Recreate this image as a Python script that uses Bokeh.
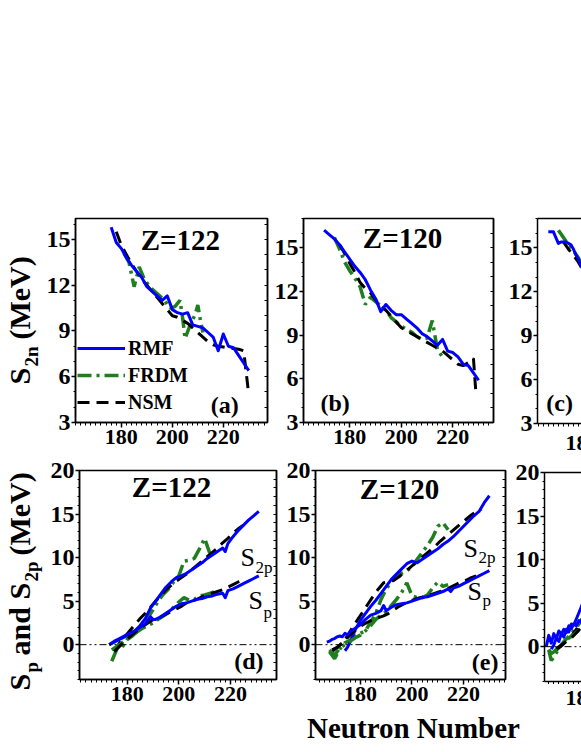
import numpy as np
from bokeh.plotting import figure
from bokeh.models import Range1d, FixedTicker, Label, Legend, LegendItem, Span, LinearAxis
from bokeh.layouts import row, column
from bokeh.embed import file_html
from bokeh.resources import INLINE

# ---------------- data ----------------
# (a) Z=122, S2n
a_rmf_n = [176,178,180,182,184,186,188,190,192,194,196,198,200,202,204,206,208,210,212,214,216,218,220,222,224,226,228,230]
a_rmf_s = [15.8,14.8,14.4,13.8,13.3,12.9,12.5,11.9,11.6,11.3,11.0,11.3,10.4,10.2,10.1,10.2,9.4,9.3,9.2,8.9,8.6,7.7,8.8,8.0,7.9,7.4,6.9,6.4]
a_nsm_n = [178,180,182,184,186,188,190,192,194,196,198,200,202,204,206,208,210,212,214,216,218,220,222,224,226,228,230]
a_nsm_s = [15.5,14.6,14.0,13.4,12.9,12.4,12.0,11.6,11.2,10.8,10.4,10.0,9.9,9.7,9.5,9.2,8.9,8.6,8.3,8.1,8.0,7.95,7.9,7.85,7.8,7.7,4.8]
a_frdm_n = [181,183,185,187,189,191,193,195,197,199,201,203,204,205,207,209,210,211,212]
a_frdm_s = [14.1,13.5,11.9,13.2,12.4,11.9,11.6,11.3,11.0,10.5,10.6,11.0,9.9,8.5,9.4,10.1,10.7,9.7,8.9]

# (b) Z=120, S2n
b_rmf_n = [170,172,174,176,178,180,182,184,186,188,190,192,194,196,198,200,202,204,206,208,210,212,214,216,218,220,222,224,226,228,230]
b_rmf_s = [16.2,15.9,15.6,15.2,14.7,14.2,13.7,13.3,12.8,12.1,11.5,10.6,11.1,10.7,10.4,10.4,10.1,9.8,9.5,9.1,8.9,8.6,8.3,8.7,7.9,7.8,7.5,7.0,6.9,6.4,5.9]
b_nsm_n = [176,178,180,182,184,186,188,190,192,194,196,198,200,202,204,206,208,210,212,214,216,218,220,222,224,226,228,229]
b_nsm_s = [15.2,14.6,13.9,13.3,12.6,12.2,11.9,11.4,11.0,10.7,10.3,9.9,9.5,9.3,9.1,8.9,8.7,8.5,8.3,8.1,7.9,7.6,7.3,7.0,6.9,7.1,7.4,4.9]
b_frdm_n = [174,176,178,180,182,184,186,188,190,192,194,196,198,200,202,204,206,208,210,212,214,216]
b_frdm_s = [15.7,14.9,14.0,13.4,12.9,12.3,11.1,11.6,11.3,11.0,10.7,10.2,9.9,9.6,9.4,9.2,8.9,8.7,8.8,10.0,8.0,7.5]

# (c) S2n (panel cut at the right edge)
c_rmf_n = [166,168,169,170,171,172,173,174,175,176,177,178,180,182]
c_rmf_s = [16.1,16.1,15.7,15.3,15.4,15.4,15.4,15.3,15.2,14.9,14.5,14.2,13.4,12.8]
c_nsm_n = [172,174,176,178,180,182]
c_nsm_s = [15.4,14.9,14.5,14.0,13.4,12.9]
c_frdm_n = [170,172,174,176,178,180,182]
c_frdm_s = [16.2,15.7,15.2,14.8,14.3,13.5,12.9]

# (d) Z=122, Sp and S2p
d_rmf_n2 = [173,175,177,179,181,183,185,187,189,191,193,195,197,199,201,203,205,207,209,211,213,215,217,218,219,221,223,225,227,229,231]
d_rmf_s2p = [0.0,0.3,0.6,0.9,1.2,1.6,2.2,3.0,4.2,5.0,5.8,6.6,7.2,7.7,7.9,8.2,8.6,9.0,9.4,9.9,10.3,10.7,11.1,10.7,11.6,12.4,13.1,13.7,14.3,14.8,15.3]
d_rmf_np = [173,175,177,179,181,183,185,187,189,190,191,193,195,197,199,201,203,205,207,209,211,213,215,217,218,219,221,223,225,227,229,231]
d_rmf_sp = [0.0,0.4,0.7,1.0,1.3,1.6,2.0,2.4,3.2,2.9,2.9,3.2,3.6,4.0,4.4,4.7,4.8,5.0,5.2,5.3,5.5,5.6,5.8,5.9,5.4,6.2,6.4,6.7,7.0,7.3,7.6,7.9]
d_nsm_n = [175,177,179,181,183,185,187,189,191,193,195,197,199,201,203,205,207,209,211,213,215,217,219,221,223,225]
d_nsm_s2p = [-0.8,0.2,0.9,1.6,2.3,3.0,3.6,4.3,5.0,5.6,6.3,6.8,7.3,7.7,8.1,8.6,9.1,9.6,10.1,10.6,11.1,11.7,12.2,12.8,13.3,13.7]
d_nsm_sp = [-0.8,-0.2,0.4,0.9,1.4,1.9,2.3,2.7,3.0,3.2,3.5,3.8,4.1,4.4,4.8,5.0,5.2,5.5,5.7,5.9,6.1,6.3,6.6,6.9,7.2,7.5]
d_frdm_n2 = [174,176,178,180,182,184,186,188,190,192,194,196,198,200,202,204,206,208,210,212]
d_frdm_s2p = [-1.9,-0.5,-0.3,0.6,1.0,1.6,2.3,3.1,4.0,5.0,5.8,6.4,7.2,7.9,9.6,9.7,9.9,11.0,12.2,10.5]
d_frdm_np = [174,176,178,180,182,184,186,188,190,192,194,196,198,200,202,204,206,208,210,212,214]
d_frdm_sp = [-0.6,-0.2,0.2,0.7,1.1,1.5,1.9,2.2,2.5,2.9,3.3,3.7,4.3,4.9,5.4,5.1,5.2,5.6,5.7,5.9,6.1]

# (e) Z=120, Sp and S2p
e_rmf_n2 = [174,175,176,177,178,180,182,184,186,188,190,192,194,196,198,200,202,204,206,208,210,212,214,216,218,220,222,224,226,228,230]
e_rmf_s2p = [-0.7,-0.3,0.3,1.0,1.7,2.8,3.6,4.4,5.1,5.9,6.7,7.5,8.1,8.7,9.3,9.6,9.4,9.8,10.2,10.6,11.0,11.5,11.9,12.4,13.0,13.6,14.2,14.8,15.3,16.3,17.1]
e_rmf_np = [167,168,169,170,171,172,173,174,175,176,178,180,182,184,186,188,189,190,192,194,196,198,200,202,204,206,208,210,212,214,215,216,218,220,222,224,226,228,230]
e_rmf_sp = [0.3,0.4,0.6,0.7,0.9,1.0,0.9,1.3,1.1,1.5,1.9,2.3,2.9,3.4,3.6,3.9,4.5,3.9,4.3,4.6,4.7,4.8,5.0,5.2,5.4,5.5,5.7,5.9,6.1,6.4,6.1,6.5,6.7,7.0,7.3,7.6,7.9,8.2,8.5]
e_nsm_n = [169,171,173,175,177,179,181,183,185,187,189,191,193,195,197,199,201,203,205,207,209,211,213,215,217,219,221,223,225,227]
e_nsm_s2p = [-0.8,-0.3,0.2,1.0,2.0,2.9,3.8,4.7,5.6,6.4,7.1,7.2,7.4,7.8,8.3,8.8,9.3,9.8,10.3,10.8,11.3,11.9,12.4,12.9,13.4,13.9,14.4,14.9,15.3,15.6]
e_nsm_sp = [-0.6,-0.3,0.2,0.8,1.4,1.9,2.3,2.6,2.9,3.1,3.3,3.6,4.0,4.4,4.7,5.0,5.2,5.4,5.5,5.7,5.9,6.1,6.3,6.6,6.9,7.2,7.4,7.7,7.9,8.1]
e_frdm_n = [168,170,172,174,176,178,180,182,184,186,188,190,192,194,196,198,200,202,204,206,208,210,212,214]
e_frdm_s2p = [-0.8,-1.6,-0.5,0.2,0.5,1.0,1.3,1.6,2.6,3.6,5.2,6.4,7.2,7.8,8.2,8.5,8.9,9.8,10.6,11.4,12.3,13.6,14.0,13.2]
e_frdm_sp = [-0.6,-1.2,-0.4,0.0,0.4,0.8,1.1,1.6,2.2,2.9,3.4,3.8,4.5,5.2,6.0,7.1,5.6,5.4,5.4,5.7,6.5,7.2,6.7,6.9]

# (f) Sp and S2p (panel cut at the right edge)
f_rmf_np = [165,166,167,168,169,170,171,172,173,174,175,176,177,178,179,180]
f_rmf_sp = [0.0,1.3,0.4,1.5,0.9,1.8,1.4,2.0,1.6,2.4,2.1,2.6,2.4,3.0,2.8,3.2]
f_rmf_n2 = [167,168,169,170,171,172,173,174,175,176,177,178,179,180]
f_rmf_s2p = [-0.3,0.2,1.0,0.6,1.5,1.1,2.0,1.7,2.6,2.5,3.2,3.9,4.6,5.4]
f_nsm_n = [169,171,173,175,177,179,181]
f_nsm_sp = [-0.2,0.2,0.6,1.0,1.6,2.2,2.7]
f_nsm_s2p = [-0.4,0.1,0.6,1.2,2.0,3.0,4.0]
f_frdm_n = [166,167,168,170,172,174,176,178,180]
f_frdm_s2p = [-0.4,-1.6,-1.2,-0.2,0.6,1.2,1.9,2.6,3.5]
f_frdm_sp = [-0.3,-0.8,-0.6,0.0,0.5,1.0,1.4,1.9,2.4]

x_major = [180, 200, 220]
x_minor = list(range(160, 240, 2))
s2n_major = [3, 6, 9, 12, 15]
s2n_minor = list(range(3, 18))
sp_major = [0, 5, 10, 15, 20]
sp_minor = list(range(-4, 21))

# ---------------- styling ----------------
FONT = "Liberation Serif"
BLUE = "#0000ff"
GREEN = "#1f7f1f"
BLACK = "#000000"
NSM_DASH = "12 7"
FRDM_DASH = "14 5 3 5"
MID = 0.34  # distance from baseline to text middle, in em

# page-pixel geometry of every frame: left, top, width, height, x range, y range
G = {
    "a": dict(fl=73, ft=217, fw=194, fh=205, xr=(162, 162 + 194 / 2.575), yr=(3, 3 + 205 / 15.33)),
    "b": dict(fl=303, ft=218, fw=190, fh=205, xr=(162, 162 + 190 / 2.575), yr=(3, 17)),
    "c": dict(fl=536, ft=218, fw=45, fh=205, xr=(161.7, 161.7 + 45 / 2.575), yr=(3, 17)),
    "d": dict(fl=79, ft=469, fw=197, fh=210, xr=(161.5, 161.5 + 197 / 2.58), yr=(-4, 20)),
    "e": dict(fl=315, ft=470, fw=190, fh=209, xr=(162.6, 162.6 + 190 / 2.58), yr=(-4, 20)),
    "f": dict(fl=543, ft=472, fw=38, fh=209, xr=(164.3, 164.3 + 38 / 2.58), yr=(-4, 20)),
}


def px(g, X, Y):
    x0, x1 = g["xr"]
    y0, y1 = g["yr"]
    return (x0 + (X - g["fl"]) * (x1 - x0) / g["fw"],
            y1 - (Y - g["ft"]) * (y1 - y0) / g["fh"])


def style_axis(ax, size):
    ax.major_label_text_font = FONT
    ax.major_label_text_font_style = "bold"
    ax.major_label_text_color = "black"
    ax.major_label_text_font_size = size
    ax.axis_line_width = 1.5
    ax.axis_line_color = "black"
    ax.major_tick_line_width = 1.5
    ax.major_tick_in = 0
    ax.minor_tick_in = 0


def make_fig(key, width, height, left, right, top, bottom, ymaj, ymin, cut=False):
    g = G[key]
    p = figure(width=width, height=height, x_range=Range1d(*g["xr"]), y_range=Range1d(*g["yr"]),
               output_backend="svg", toolbar_location=None,
               min_border_left=left, min_border_right=right, min_border_top=top, min_border_bottom=bottom)
    p.grid.visible = False
    p.background_fill_color = "white"
    p.border_fill_color = "white"
    xb = p.below[0]
    yl = p.left[0]
    style_axis(xb, "22px")
    style_axis(yl, "24px")
    yl.ticker = FixedTicker(ticks=ymaj, minor_ticks=ymin)
    yl.major_tick_out = 4
    yl.minor_tick_out = 2
    yl.major_label_standoff = 1
    xb.minor_tick_out = 3
    if cut:
        # the 180 label of a cut panel is drawn in a strip below (it is clipped by the page edge)
        xb.ticker = FixedTicker(ticks=[], minor_ticks=x_minor)
        xb.major_tick_out = 0
        xb.major_label_standoff = 0
        p.outline_line_color = None
        top_ax = LinearAxis(ticker=FixedTicker(ticks=[]), major_tick_out=0, major_tick_in=0,
                            minor_tick_out=0, minor_tick_in=0, major_label_standoff=0,
                            axis_line_width=1.5, axis_line_color="black")
        p.add_layout(top_ax, "above")
    else:
        xb.ticker = FixedTicker(ticks=x_major, minor_ticks=x_minor)
        xb.major_tick_out = 5
        xb.major_label_standoff = 2
        p.outline_line_color = "black"
        p.outline_line_width = 1.5
        # mirrored inward ticks on the right edge of the frame (no labels)
        r_ax = LinearAxis(ticker=FixedTicker(ticks=[], minor_ticks=ymin),
                          major_tick_in=0, major_tick_out=0, minor_tick_in=3, minor_tick_out=0,
                          major_label_standoff=0, axis_line_width=1.5, axis_line_color="black")
        p.add_layout(r_ax, "right")
    return p


def lines(p, n_r, s_r, n_f, s_f, n_n, s_n):
    rf = p.line(n_f, s_f, line_color=GREEN, line_width=3.5, line_dash=FRDM_DASH)
    rn = p.line(n_n, s_n, line_color=BLACK, line_width=3, line_dash=NSM_DASH)
    rr = p.line(n_r, s_r, line_color=BLUE, line_width=3, line_join="round")
    return rr, rf, rn


def text(p, g, X, Y, t, size, bold=True, align="left"):
    # X, Y: page pixel of the text's left/centre/right end on its baseline
    x, y = px(g, X, Y - MID * size)
    p.add_layout(Label(x=x, y=y, text=t, text_font=FONT, text_font_size=f"{size}px",
                       text_font_style="bold" if bold else "normal", text_color="black",
                       text_align=align, text_baseline="middle"))


def zero_line(p):
    p.add_layout(Span(location=0, dimension="width", line_color="black", line_width=1,
                      line_dash="7 3 2 3 2 3"))


def blank_fig(width, height, x0, x1, ytop, ybot):
    # a bare canvas whose data coordinates equal page pixels (for titles and cut labels)
    p = figure(width=width, height=height, x_range=Range1d(x0, x1), y_range=Range1d(ybot, ytop),
               output_backend="svg", toolbar_location=None,
               min_border_left=0, min_border_right=0, min_border_top=0, min_border_bottom=0)
    p.axis.visible = False
    p.grid.visible = False
    p.outline_line_color = None
    p.background_fill_color = "white"
    p.border_fill_color = "white"
    return p


def ptext(p, X, Y, t, size, rotated=False, align="left"):
    if rotated:
        X = X - MID * size
        ang = np.pi / 2
    else:
        Y = Y - MID * size
        ang = 0.0
    p.add_layout(Label(x=X, y=Y, text=t, text_font=FONT, text_font_size=f"{size}px",
                       text_font_style="bold", text_color="black", text_align=align,
                       text_baseline="middle", angle=ang))


# ---------------- y-axis titles (left strip) ----------------
yt = blank_fig(43, 750, 0, 43, 0, 750)
for (Y, t, sz, X) in [(384, "S", 30, 29), (366, "2n", 19, 37), (339, "(MeV)", 30, 29),
                      (690, "S", 30, 29), (672, "p", 19, 37), (655, "and", 30, 29),
                      (599, "S", 30, 29), (581, "2p", 19, 37), (555, "(MeV)", 30, 29)]:
    ptext(yt, X, Y, t, sz, rotated=True)

# ---------------- top row (page y 0..455) ----------------
pa = make_fig("a", 227, 455, 30, 3, 217, 33, s2n_major, s2n_minor)
ra, fa, na = lines(pa, a_rmf_n, a_rmf_s, a_frdm_n, a_frdm_s, a_nsm_n, a_nsm_s)
legend = Legend(items=[LegendItem(label="RMF", renderers=[ra]),
                       LegendItem(label="FRDM", renderers=[fa]),
                       LegendItem(label="NSM", renderers=[na])],
                location=(2, 8), background_fill_alpha=0, border_line_color=None,
                label_text_font=FONT, label_text_font_style="bold", label_text_font_size="20px",
                label_text_color="black",
                glyph_width=48, glyph_height=24, label_height=24, spacing=3, padding=2,
                margin=0, label_standoff=3)
pa.add_layout(legend)
text(pa, G["a"], 179, 248, "Z=122", 29, align="center")
text(pa, G["a"], 238, 413, "(a)", 24, align="right")

pb = make_fig("b", 235, 455, 33, 12, 218, 32, s2n_major, s2n_minor)
lines(pb, b_rmf_n, b_rmf_s, b_frdm_n, b_frdm_s, b_nsm_n, b_nsm_s)
text(pb, G["b"], 402, 247, "Z=120", 29, align="center")
text(pb, G["b"], 320, 412, "(b)", 24)

pc = make_fig("c", 76, 432, 31, 0, 218, 9, s2n_major, s2n_minor, cut=True)
lines(pc, c_rmf_n, c_rmf_s, c_frdm_n, c_frdm_s, c_nsm_n, c_nsm_s)
text(pc, G["c"], 545, 411, "(c)", 24)
sc = blank_fig(76, 23, 505, 581, 432, 455)
ptext(sc, 582, 450, "180", 22, align="center")

# ---------------- bottom row (page y 455..710) ----------------
pd = make_fig("d", 239, 255, 36, 6, 14, 31, sp_major, sp_minor)
zero_line(pd)
lines(pd, d_rmf_n2, d_rmf_s2p, d_frdm_n2, d_frdm_s2p, d_nsm_n, d_nsm_s2p)
lines(pd, d_rmf_np, d_rmf_sp, d_frdm_np, d_frdm_sp, d_nsm_n, d_nsm_sp)
text(pd, G["d"], 171, 495, "Z=122", 29, align="center")
text(pd, G["d"], 263, 669, "(d)", 24, align="right")
text(pd, G["d"], 240, 565, "S", 26, bold=False)
text(pd, G["d"], 255, 572, "2p", 17, bold=False)
text(pd, G["d"], 248, 608, "S", 26, bold=False)
text(pd, G["d"], 263, 617, "p", 17, bold=False)

pe = make_fig("e", 230, 255, 33, 7, 15, 31, sp_major, sp_minor)
zero_line(pe)
lines(pe, e_rmf_n2, e_rmf_s2p, e_frdm_n, e_frdm_s2p, e_nsm_n, e_nsm_s2p)
lines(pe, e_rmf_np, e_rmf_sp, e_frdm_n, e_frdm_sp, e_nsm_n, e_nsm_sp)
text(pe, G["e"], 399, 498, "Z=120", 29, align="center")
text(pe, G["e"], 498, 670, "(e)", 24, align="right")
text(pe, G["e"], 463, 557, "S", 26, bold=False)
text(pe, G["e"], 478, 563, "2p", 17, bold=False)
text(pe, G["e"], 467, 600, "S", 26, bold=False)
text(pe, G["e"], 482, 606, "p", 17, bold=False)

pf = make_fig("f", 69, 229, 31, 0, 17, 3, sp_major, sp_minor, cut=True)
zero_line(pf)
lines(pf, f_rmf_n2, f_rmf_s2p, f_frdm_n, f_frdm_s2p, f_nsm_n, f_nsm_s2p)
lines(pf, f_rmf_np, f_rmf_sp, f_frdm_n, f_frdm_sp, f_nsm_n, f_nsm_sp)
sf = blank_fig(69, 26, 512, 581, 684, 710)
ptext(sf, 582, 705, "180", 22, align="center")

# ---------------- x-axis title strip (page y 710..750) ----------------
xt = blank_fig(538, 40, 43, 581, 710, 750)
ptext(xt, 413, 737, "Neutron Number", 29, align="center")

top_row = row(pa, pb, column(pc, sc, spacing=0), spacing=0)
bottom_row = row(pd, pe, column(pf, sf, spacing=0), spacing=0)
right = column(top_row, bottom_row, xt, spacing=0)
layout = row(yt, right, spacing=0)
open("out.html", "w").write(file_html(layout, INLINE))
